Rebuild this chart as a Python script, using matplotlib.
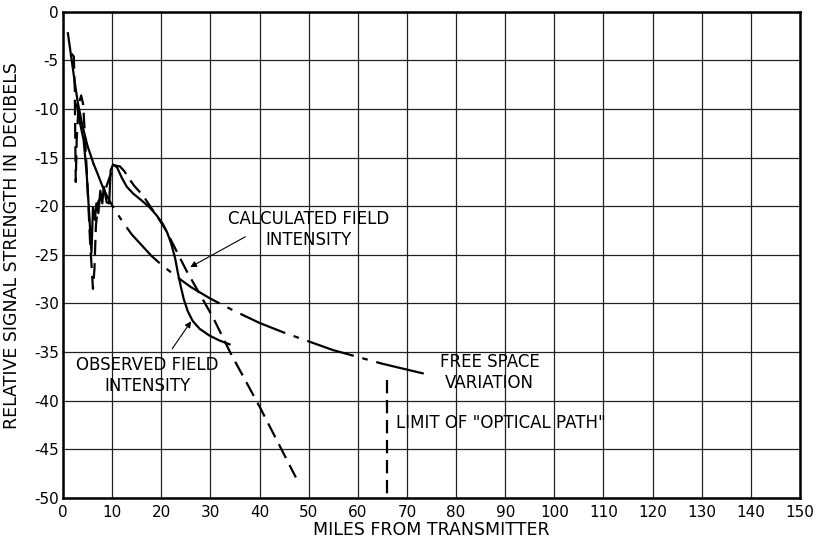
import numpy as np
import matplotlib.pyplot as plt

# =========================
# Data
# =========================
x_ticks = np.arange(0, 151, 10)
y_ticks = np.arange(0, -51, -5)

# free space variation (solid at first, then dash-dot)
free_x = [1.0, 1.5, 2.0, 2.5, 3.0, 4.0, 5.0, 6.2, 7.0, 8.0, 9.0, 10, 12, 14, 16, 18, 20,
          23, 26, 30, 35, 40, 45, 50, 55, 60, 65, 70, 75]
free_y = [-2.2, -4.0, -5.8, -7.6, -9.3, -11.8, -13.8, -15.6, -16.6, -17.9, -19.0, -19.9,
          -21.5, -22.9, -24.0, -25.1, -26.0, -27.2, -28.3, -29.5, -30.8, -32.0, -33.0,
          -33.9, -34.8, -35.5, -36.2, -36.8, -37.4]

# observed field intensity (solid)
obs_x = [2.8, 3.5, 4.2, 4.8, 5.3, 5.8, 6.1, 6.5, 6.8, 7.2, 7.6, 8.0, 8.3, 8.9, 9.4, 9.7,
         10.2, 11.0, 12.0, 13.0, 14.3, 16.0, 17.6, 19.0, 20.3, 21.2, 22.0, 22.8, 23.4,
         24.0, 24.6, 25.4, 26.4, 27.8, 29.8, 31.8, 33.9]
obs_y = [-9.5, -11.5, -13.2, -16.5, -20.5, -24.8, -20.1, -21.4, -19.7, -20.7, -18.4, -19.7,
         -18.0, -19.6, -19.7, -16.3, -15.7, -16.0, -17.1, -18.0, -18.7, -19.4, -20.1,
         -20.9, -21.8, -22.7, -23.8, -25.3, -26.9, -28.3, -29.6, -30.8, -31.8, -32.6,
         -33.3, -33.8, -34.2]

# calculated field intensity (dashed)
calc_x = [1.8, 2.2, 2.4, 2.5, 2.6, 2.8, 3.2, 3.7, 4.1, 4.5, 5.0, 5.5, 6.1, 6.4, 6.7, 7.2,
          7.8, 8.6, 9.5, 10.5, 11.6, 12.5, 13.5, 14.5, 16.3, 18.0, 19.5, 21.0, 23.0,
          25.1, 27.8, 30.5, 34.2, 40.0, 47.4]
calc_y = [-4.3, -4.6, -8.0, -13.0, -17.5, -13.0, -9.5, -8.6, -9.5, -13.0, -18.0, -23.5,
          -28.5, -26.5, -22.0, -19.5, -19.0, -18.3, -17.0, -15.8, -15.9, -16.4, -17.2,
          -17.9, -18.9, -20.2, -21.3, -22.5, -24.5, -26.6, -29.0, -31.4, -35.2, -40.6,
          -47.9]

limit_x = 66.0
limit_y = [-37.9, -50]

plt.rcParams["font.family"] = "DejaVu Sans"
plt.rcParams["axes.unicode_minus"] = False

fig = plt.figure(figsize=(8.18, 5.4), dpi=100)
ax = fig.add_axes([0.077, 0.078, 0.901, 0.9])

lw = 1.6
n_solid = 8  # first points of free space drawn solid
ax.plot(free_x[:n_solid], free_y[:n_solid], color="black", lw=lw)
ax.plot(free_x[n_solid - 1:], free_y[n_solid - 1:], color="black", lw=lw,
        dashes=(22, 4, 2.5, 4))
ax.plot(obs_x, obs_y, color="black", lw=lw)
ax.plot(calc_x, calc_y, color="black", lw=lw, dashes=(7, 3.5))
ax.plot([limit_x, limit_x], limit_y, color="black", lw=lw, dashes=(6, 3))

# =========================
# Labels
# =========================
fs = 12
ax.text(50.0, -22.35, "CALCULATED FIELD\nINTENSITY", ha="center", va="center",
        fontsize=fs, linespacing=1.2)
ax.annotate("", xy=(25.4, -26.4), xytext=(37.6, -23.0),
            arrowprops=dict(arrowstyle="-|>", color="black", lw=0.8, mutation_scale=9))
ax.text(17.2, -37.4, "OBSERVED FIELD\nINTENSITY", ha="center", va="center",
        fontsize=fs, linespacing=1.2)
ax.annotate("", xy=(26.4, -31.6), xytext=(21.9, -34.9),
            arrowprops=dict(arrowstyle="-|>", color="black", lw=0.8, mutation_scale=9))
ax.text(86.8, -37.1, "FREE SPACE\nVARIATION", ha="center", va="center",
        fontsize=fs, linespacing=1.2)
ax.text(67.8, -42.3, 'LIMIT OF "OPTICAL PATH"', ha="left", va="center", fontsize=fs)

# =========================
# Axes
# =========================
ax.set_xlim(0, 150)
ax.set_ylim(-50, 0)
ax.set_xticks(x_ticks)
ax.set_yticks(y_ticks)
ax.set_xticklabels([str(v) for v in x_ticks], fontsize=11)
ax.set_yticklabels([str(v) for v in y_ticks], fontsize=11)
ax.tick_params(axis="x", length=0, pad=5)
ax.tick_params(axis="y", length=0, pad=3)
ax.grid(True, color="#222222", lw=0.9)
ax.set_axisbelow(True)
for s in ax.spines.values():
    s.set_linewidth(1.8)

ax.set_xlabel("MILES FROM TRANSMITTER", fontsize=12.5)
ax.xaxis.label.set_va("center")
ax.xaxis.set_label_coords(0.5, -0.067)
ax.set_ylabel("RELATIVE SIGNAL STRENGTH IN DECIBELS", fontsize=12.5)
ax.yaxis.label.set_va("center")
ax.yaxis.set_label_coords(-0.069, 0.52)

plt.savefig("out.png", dpi=100)
